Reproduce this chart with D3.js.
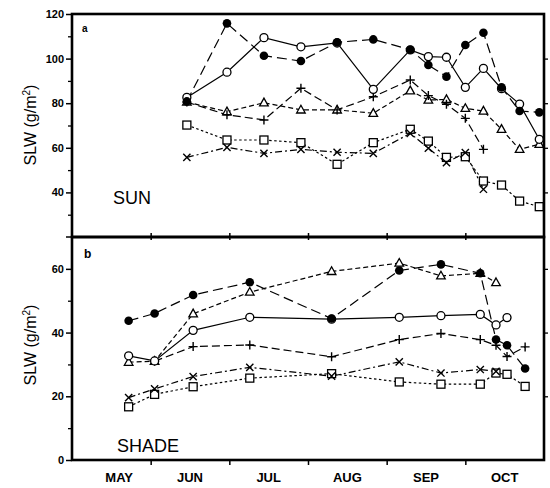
<!DOCTYPE html>
<html><head><meta charset="utf-8">
<script src="https://cdn.jsdelivr.net/npm/d3@7"></script>
<style>body{margin:0;background:#fff}</style>
</head><body>
<svg id="c" width="550" height="488"></svg>
<script>
// ---------- data ----------
const monthLabels = ["MAY","JUN","JUL","AUG","SEP","OCT"];
const monthStarts = [5,6,7,8,9,10,11];          // month boundaries (5 = 1 May)
const labelPos = [5.6,6.5,7.5,8.5,9.5,10.5];
const topTicks = [40,60,80,100,120];
const topMinor = [30,50,70,90,110];
const botTicks = [0,20,40,60];
const botMinor = [10,30,50];

// a: SUN (sampling dates in month units)
const sunDates = [6.46,6.97,7.44,7.91,8.37,8.83,9.30,9.53,9.76,10.0,10.23,10.46,10.69,10.94];
const sunFilled = [80.8,115.8,101.3,98.9,107.3,108.6,104.0,97.1,91.9,106.1,111.6,87.1,76.5,75.9];
const sunOpen   = [82.6,93.9,109.4,105.3,107.0,86.2,103.9,100.9,100.6,87.1,95.6,86.5,79.6,63.8];
const sunTri    = [80.5,76.2,80.2,77.0,77.0,75.5,85.6,81.4,81.7,77.7,76.5,68.3,59.3,61.6];
const sunPlus   = [80.5,74.8,72.5,86.7,77.0,82.9,90.4,83.4,79.5,73.2,59.3,null,null,null];
const sunSquare = [70.2,63.5,63.5,62.3,52.6,62.3,68.3,63.0,55.7,56.0,45.1,43.3,36.1,33.6];
const sunCross  = [55.7,60.2,57.5,59.3,58.0,57.5,66.5,59.8,53.3,57.8,41.4,null,null,null];

// b: SHADE
const shadeDates = [5.72,6.05,6.54,7.26,8.30,9.16,9.69,10.19,10.39,10.53,10.76];
const shadeFilled = [43.7,46.0,51.8,55.8,44.4,59.5,61.4,58.6,37.8,36.0,28.7];
const shadeOpen   = [32.7,31.1,40.7,44.8,44.2,44.8,45.3,45.7,42.4,44.7,null];
const shadeTri    = [30.7,31.0,45.9,52.7,59.2,61.8,57.8,58.6,55.7,null,null];
const shadePlus   = [null,31.0,35.6,36.1,32.4,37.8,39.7,37.8,36.0,32.5,35.5];
const shadeSquare = [16.7,20.6,23.0,25.7,27.1,24.5,23.8,23.8,27.3,26.9,23.1];
const shadeCross  = [19.6,22.3,26.2,29.1,26.3,30.8,27.3,28.4,27.8,null,null];

// ---------- drawing ----------
const svg = d3.select("#c");
const FONT = "'Liberation Sans', Arial, Helvetica, sans-serif";
const L = 72, R = 544;
const x = d3.scaleLinear().domain([5,11]).range([L,R]);
const yTop = d3.scaleLinear().domain([20,120]).range([237,14]);
const yBot = d3.scaleLinear().domain([0,70]).range([460,237]);

const styles = {
  filled: {dash:"10,5", marker:"fcircle"},
  open:   {dash:null,   marker:"ocircle"},
  tri:    {dash:"5,3",  marker:"tri"},
  plus:   {dash:"8,4",  marker:"plus"},
  square: {dash:"2.5,2.5", marker:"sq"},
  cross:  {dash:"7,3,2,3", marker:"x"}
};

function drawMarker(g, type, cx, cy) {
  if (type === "fcircle") g.append("circle").attr("cx",cx).attr("cy",cy).attr("r",4.3).attr("fill","#000");
  else if (type === "ocircle") g.append("circle").attr("cx",cx).attr("cy",cy).attr("r",4).attr("fill","#fff").attr("stroke","#000").attr("stroke-width",1.3);
  else if (type === "tri") g.append("path").attr("d",`M${cx},${cy-4.6}L${cx+4.3},${cy+3.1}L${cx-4.3},${cy+3.1}Z`).attr("fill","#fff").attr("stroke","#000").attr("stroke-width",1.3);
  else if (type === "sq") g.append("rect").attr("x",cx-4).attr("y",cy-4).attr("width",8).attr("height",8).attr("fill","#fff").attr("stroke","#000").attr("stroke-width",1.3);
  else if (type === "x") g.append("path").attr("d",`M${cx-3.6},${cy-3.6}L${cx+3.6},${cy+3.6}M${cx-3.6},${cy+3.6}L${cx+3.6},${cy-3.6}`).attr("stroke","#000").attr("stroke-width",1.4).attr("fill","none");
  else if (type === "plus") g.append("path").attr("d",`M${cx-4.5},${cy}L${cx+4.5},${cy}M${cx},${cy-4.5}L${cx},${cy+4.5}`).attr("stroke","#000").attr("stroke-width",1.4).attr("fill","none");
}

function drawPanel(dates, seriesList, y) {
  const g = svg.append("g");
  const line = d3.line().defined(d => d[1] != null).x(d => x(d[0])).y(d => y(d[1]));
  seriesList.forEach(s => {
    const pts = dates.map((d,i) => [d, s.vals[i]]);
    g.append("path").attr("d", line(pts)).attr("fill","none").attr("stroke","#000")
      .attr("stroke-width",1.2).attr("stroke-dasharray", styles[s.key].dash);
  });
  seriesList.forEach(s => {
    dates.forEach((d,i) => {
      if (s.vals[i] != null) drawMarker(g, styles[s.key].marker, x(d), y(s.vals[i]));
    });
  });
}

drawPanel(sunDates, [
  {key:"square", vals:sunSquare}, {key:"cross", vals:sunCross},
  {key:"tri", vals:sunTri}, {key:"plus", vals:sunPlus},
  {key:"open", vals:sunOpen}, {key:"filled", vals:sunFilled}
], yTop);
drawPanel(shadeDates, [
  {key:"square", vals:shadeSquare}, {key:"cross", vals:shadeCross},
  {key:"tri", vals:shadeTri}, {key:"plus", vals:shadePlus},
  {key:"open", vals:shadeOpen}, {key:"filled", vals:shadeFilled}
], yBot);

// axes
function yAxis(scale, ticks, minor) {
  const g = svg.append("g").attr("transform",`translate(${L},0)`);
  g.call(d3.axisLeft(scale).tickValues(ticks).tickSize(6).tickPadding(2).tickFormat(d3.format("d")));
  g.select(".domain").remove();
  g.selectAll("line").attr("stroke","#000").attr("stroke-width",1.5);
  g.selectAll("text").attr("font-family",FONT).attr("font-size",11).attr("font-weight","bold").attr("fill","#000");
  const m = svg.append("g").attr("transform",`translate(${L},0)`);
  m.call(d3.axisLeft(scale).tickValues(minor).tickSize(4).tickFormat(""));
  m.select(".domain").remove();
  m.selectAll("line").attr("stroke","#000").attr("stroke-width",1.3);
  const r = svg.append("g").attr("transform",`translate(${R},0)`);
  r.call(d3.axisRight(scale).tickValues(ticks.filter(t => t !== scale.domain()[0] && t !== scale.domain()[1])).tickSize(4).tickFormat(""));
  r.select(".domain").remove();
  r.selectAll("line").attr("stroke","#000").attr("stroke-width",1.3);
}
yAxis(yTop, topTicks, topMinor);
yAxis(yBot, botTicks, botMinor);
svg.append("line").attr("x1",L-6).attr("x2",L).attr("y1",237).attr("y2",237).attr("stroke","#000").attr("stroke-width",1.5);

// x axis
const xa = svg.append("g").attr("transform","translate(0,460)");
xa.call(d3.axisBottom(x).tickValues(monthStarts.slice(1,6)).tickSize(5).tickFormat(""));
xa.select(".domain").remove();
xa.selectAll("line").attr("stroke","#000").attr("stroke-width",1.5);
const xm = svg.append("g").attr("transform","translate(0,240)");
xm.call(d3.axisTop(x).tickValues(monthStarts.slice(1,6)).tickSize(7).tickFormat(""));
xm.select(".domain").remove();
xm.selectAll("line").attr("stroke","#000").attr("stroke-width",1.5);

svg.append("g").selectAll("text").data(monthLabels).join("text")
  .attr("x",(d,i) => x(labelPos[i])).attr("y",482)
  .attr("text-anchor","middle").attr("font-family",FONT).attr("font-size",13).attr("font-weight","bold")
  .text(d => d);

// frames
[[14,237],[237,460]].forEach(([t,b]) => {
  svg.append("rect").attr("x",L).attr("y",t).attr("width",R-L).attr("height",b-t)
    .attr("fill","none").attr("stroke","#000").attr("stroke-width",2.6);
});

// titles
function yTitle(cy) {
  const t = svg.append("text").attr("transform",`translate(36,${cy}) rotate(-90)`)
    .attr("text-anchor","middle").attr("font-family",FONT).attr("font-size",16);
  t.append("tspan").text("SLW  (g/m");
  t.append("tspan").attr("dy",-6).attr("font-size",10).text("2");
  t.append("tspan").attr("dy",6).text(")");
}
yTitle(125);
yTitle(345);

svg.append("text").attr("x",82).attr("y",32).attr("font-family",FONT).attr("font-size",10).attr("font-weight","bold").text("a");
svg.append("text").attr("x",84).attr("y",258).attr("font-family",FONT).attr("font-size",12).attr("font-weight","bold").text("b");
svg.append("text").attr("x",113).attr("y",204).attr("font-family",FONT).attr("font-size",18).text("SUN");
svg.append("text").attr("x",117).attr("y",452).attr("font-family",FONT).attr("font-size",18).text("SHADE");
</script>
</body></html>
